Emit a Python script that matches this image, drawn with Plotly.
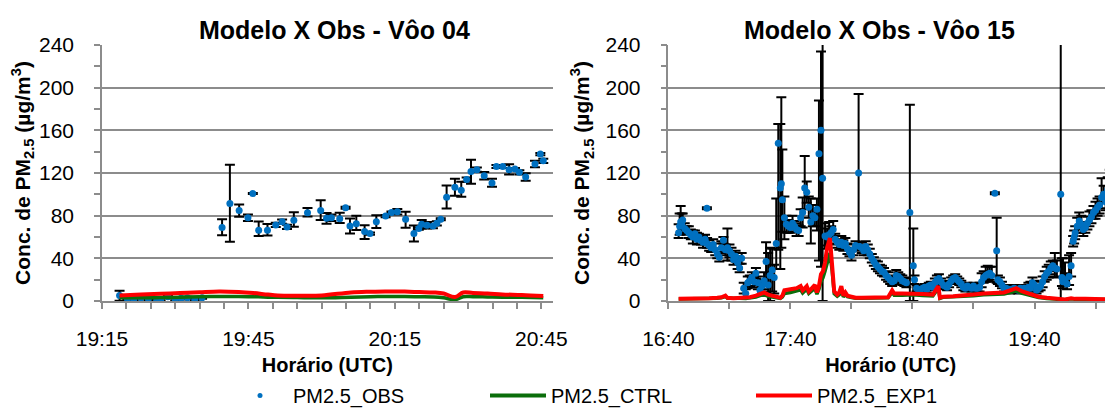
import pandas as pd
import plotly.graph_objects as go

# ---------------- DATA ----------------
# Flight 04 (minutes after 19:15)
OBS04_MIN = [3.6, 5.2, 6.5, 8.0, 9.5, 11.2, 12.0, 13.5, 15.0, 16.2, 17.5, 19.0, 20.5,
             24.6, 26.2, 28.1, 29.9, 30.9, 32.1, 33.9, 35.6, 36.9, 37.9, 39.3, 42.1, 44.8,
             46.0, 47.0, 48.7, 49.9, 50.8, 52.1, 53.8, 54.9, 56.2, 58.1, 59.3, 60.5, 62.2,
             63.9, 64.9, 65.5, 66.6, 67.8, 68.6, 69.4, 70.6, 72.3, 73.6, 74.7, 75.6, 76.8,
             78.3, 79.9, 80.8, 82.1, 83.4, 84.6, 85.5, 86.8, 88.7, 89.8, 90.4]
OBS04_VAL = [5.2, 2.0, 1.5, 3.0, 2.0, 0.5, 1.0, 4.0, 1.5, 2.5, 3.0, 1.5, 3.0,
             68.8, 91.4, 84.9, 78.1, 100.7, 66.3, 66.3, 71.3, 74.4, 69.4, 75.6, 82.8, 84.9,
             77.5, 78.1, 77.2, 87.4, 70.3, 72.5, 65.1, 63.2, 74.4, 79.6, 83.0, 83.7, 76.6,
             63.2, 67.9, 71.9, 71.0, 70.3, 72.8, 76.6, 97.3, 106.6, 103.8, 113.8, 121.5, 123.1,
             117.5, 110.7, 126.1, 126.1, 123.1, 123.7, 120.6, 116.3, 128.4, 137.7, 131.4]
OBS04_UP = [4.5, 1, 1, 1, 1, 1, 1, 1, 1, 1, 1, 1, 1,
            7.8, 36.3, 5.6, 3, 0.5, 8.3, 6, 2, 2, 2, 7.5, 4.5, 9.6,
            5, 3, 5.5, 1, 7, 7.5, 6, 1, 6, 1, 1, 2.5, 7,
            7.5, 1, 4, 3, 2, 2, 1, 10.9, 8, 8, 2, 11, 2,
            3.5, 4, 1.5, 1.5, 5, 1, 2, 3.5, 3, 1, 2]
OBS04_DN = [5, 1, 1, 1, 1, 1, 1, 1, 1, 1, 1, 1, 1,
            7.1, 35.9, 5.9, 3, 0.5, 5.3, 5, 2, 2, 2, 6, 3.5, 9,
            5, 3, 4, 1, 7, 6, 7, 1, 6, 1, 1, 2.5, 8,
            7.5, 1, 4, 3, 2, 2, 1, 10.5, 8, 6, 2, 11.5, 2,
            3.5, 3.5, 1.5, 1.5, 4.5, 1, 2, 3.5, 3, 1, 2]

MOD04_MIN = [3.6, 8, 12, 16, 20, 24, 28, 31, 34, 36, 40, 45, 51, 55, 58, 62, 65, 68,
             70, 72.3, 74, 76, 79, 82, 86, 90.4]
CTRL04_VAL = [3.0, 3.0, 3.2, 3.6, 4.0, 4.2, 4.2, 4.0, 3.6, 3.4, 3.2, 3.0, 3.6, 4.0, 4.2,
              4.2, 4.0, 3.8, 3.0, 1.2, 4.0, 4.0, 3.8, 3.6, 3.4, 3.0]
EXP104_VAL = [5.2, 6.0, 6.7, 7.5, 8.3, 9.0, 8.5, 7.5, 6.0, 5.2, 5.0, 5.2, 8.0, 8.7, 9.0,
              8.8, 8.4, 8.0, 7.0, 3.7, 8.0, 7.5, 7.0, 6.2, 5.6, 4.6]

# Flight 15 (minutes after 16:40)
OBS15_MIN = [5, 5.5, 6, 6.5, 7, 8, 9, 10, 11, 12, 13, 14, 15, 16, 17, 18, 18.9, 19, 20,
             21, 22, 23, 24, 25, 26, 27, 28, 29, 30, 31, 32, 33, 34, 35, 36, 37, 38, 39,
             40, 41, 42, 43, 44, 45, 46, 47, 48, 49, 50, 51, 52, 53, 54, 55, 55.5, 56, 57,
             58, 59, 60, 61, 62, 63, 64, 65, 66, 67, 68, 69, 70, 71, 72, 73, 74, 75, 75.8,
             77, 78, 79, 80, 81, 82, 83, 84, 85, 86, 87, 88, 89, 90, 91, 92, 93.5, 94, 95,
             96, 97, 98, 99, 100, 101, 102, 103, 104, 105, 106, 107, 108, 109, 110, 111,
             112, 113, 114, 115, 116, 117, 118.7, 120.4, 121, 122, 123, 124, 125, 126, 127,
             128, 129, 130, 131, 132, 133, 134, 135, 136, 137, 138, 139, 140, 141, 142, 143,
             144, 145, 146, 147, 148, 149, 150, 151, 152, 153, 154, 155, 156, 157, 158, 159,
             160.5, 161.4, 162, 163, 164, 165, 166, 167, 168, 169, 170, 171, 172, 173, 174,
             175, 176, 177, 178, 179, 180, 181, 182, 183, 184, 185, 186, 187, 188, 189, 190,
             191, 192.9, 193.5, 194, 195, 196, 197, 198, 199, 199.5, 200, 201, 202, 203, 204,
             205, 206, 207, 208, 209, 210, 211, 212, 213, 214, 215, 216, 217, 218]
OBS15_VAL = [64, 70, 74, 72, 76, 68, 66, 64, 62, 60, 63, 58, 60, 57, 55, 58, 87, 54, 52,
             50, 53, 48, 44, 41, 50, 57, 48, 50, 47, 44, 39, 42, 36, 31, 40, 12, 7, 17,
             19, 22, 18, 26, 17, 10, 14, 19, 37, 15, 24, 29, 22, 54, 148, 106, 110, 95, 78,
             72, 70, 69, 73, 70, 67, 66, 78, 83, 106, 102, 88, 74, 80, 78, 86, 138, 160, 115,
             61, 60, 62, 64, 67, 58, 55, 53, 55, 52, 54, 49, 46, 43, 48, 52, 120, 51, 50,
             47, 51, 48, 44, 40, 37, 34, 32, 30, 28, 27, 24, 22, 20, 18, 19,
             24, 23, 21, 19, 18, 17, 83, 33, 20, 12, 10, 11, 12, 13, 11,
             14, 15, 13, 17, 20, 21, 18, 15, 14, 13, 16, 19, 21, 22, 20, 18,
             16, 13, 12, 14, 13, 12, 14, 12, 12, 13, 18, 22, 24, 25, 26, 24,
             101, 47, 20, 18, 15, 12, 12, 11, 10, 11, 12, 11, 10, 12, 11,
             12, 10, 13, 12, 17, 15, 10, 12, 14, 18, 23, 26, 28, 31, 33, 31,
             30, 100, 22, 18, 20, 16, 23, 33, 56, 60, 64, 70, 75, 72, 67,
             69, 73, 76, 79, 83, 85, 88, 90, 97, 100, 93, 104, 111, 106]
OBS15_UP = [8, 12, 15, 10, 6, 5, 4, 6, 5, 6, 3, 6, 3, 4, 6, 4, 1, 5, 5,
            4, 5, 6, 5, 5, 6, 3, 5, 18, 6, 6, 6, 5, 6, 4, 5, 5, 4, 6,
            5, 5, 6, 5, 6, 5, 6, 8, 18, 30, 26, 20, 12, 42, 18, 60, 81, 47, 20,
            8, 6, 5, 7, 5, 6, 5, 8, 14, 30, 10, 10, 22, 10, 8, 10, 50, 74, 200,
            12, 8, 12, 6, 8, 5, 6, 5, 6, 5, 5, 5, 4, 5, 5, 4, 74, 4, 5,
            4, 5, 5, 5, 4, 4, 4, 5, 4, 5, 4, 4, 5, 4, 4, 4,
            5, 4, 4, 5, 4, 4, 101, 35, 4, 3, 3, 3, 3, 3, 3,
            3, 3, 3, 4, 4, 4, 3, 3, 3, 3, 3, 3, 3, 3, 3, 3,
            3, 3, 3, 3, 3, 3, 3, 3, 4, 4, 8, 6, 8, 8, 6, 8,
            1, 31, 4, 4, 3, 3, 3, 3, 3, 3, 3, 3, 3, 3, 3,
            3, 3, 4, 6, 5, 4, 3, 3, 4, 5, 5, 6, 6, 6, 5, 14,
            8, 200, 18, 22, 16, 10, 20, 12, 5, 6, 6, 8, 8, 8, 6,
            5, 6, 8, 6, 6, 8, 8, 8, 18, 8, 8, 12, 12, 10]
OBS15_DN = [5, 8, 10, 8, 6, 5, 4, 5, 4, 6, 3, 5, 3, 4, 5, 4, 1, 4, 5,
            4, 4, 5, 4, 4, 5, 3, 5, 12, 6, 6, 5, 5, 6, 4, 5, 5, 4, 5,
            5, 5, 5, 5, 6, 5, 5, 8, 22, 15, 24, 20, 15, 24, 100, 76, 60, 30, 20,
            8, 6, 5, 6, 5, 6, 5, 8, 14, 20, 10, 10, 20, 10, 8, 20, 100, 128, 115,
            12, 8, 8, 6, 8, 5, 5, 5, 6, 5, 5, 5, 4, 5, 5, 4, 70, 4, 5,
            4, 5, 5, 4, 4, 4, 4, 4, 4, 4, 4, 4, 4, 4, 4, 3,
            4, 4, 4, 4, 4, 4, 83, 33, 4, 3, 3, 3, 3, 3, 3,
            3, 3, 3, 3, 4, 4, 3, 3, 3, 3, 3, 3, 3, 3, 3, 3,
            3, 3, 3, 3, 3, 3, 3, 3, 3, 4, 5, 5, 6, 6, 6, 6,
            1, 30, 4, 4, 3, 3, 3, 3, 3, 3, 3, 3, 3, 3, 3,
            3, 3, 3, 3, 4, 4, 3, 3, 4, 5, 5, 6, 6, 6, 5, 8,
            8, 100, 8, 6, 6, 5, 8, 10, 5, 6, 6, 6, 8, 8, 6,
            5, 6, 6, 6, 6, 8, 8, 8, 10, 8, 8, 12, 10, 10]

MOD15_MIN = [5, 10, 15, 20, 24, 26, 28, 29, 32, 35, 38, 40, 43, 45, 47, 49, 51, 53, 55,
             56, 57, 60, 63, 65, 66, 68, 69, 70, 72, 73, 74, 75, 76, 77, 78, 79.4, 80.5,
             81.5, 83, 84, 85, 86, 87, 88, 90, 92, 95, 100, 105, 108, 110, 111, 115, 120,
             125, 130, 132.7, 133.5, 135, 140, 145, 150, 155, 160, 165, 168, 171, 174, 178,
             182, 186, 190, 195, 198, 200, 205, 210, 215, 218]
CTRL15_VAL = [1.8, 1.8, 2.0, 2.2, 2.6, 3.0, 4.2, 2.6, 2.2, 2.6, 2.4, 2.8, 3.8, 5.0, 6.0,
              4.5, 3.8, 3.0, 2.4, 3.8, 7.0, 8.0, 9.0, 10.5, 7.5, 11.0, 7.0, 8.5, 12.0, 6.5,
              11.0, 18.0, 22.0, 28.0, 36.0, 45.0, 28.0, 7.0, 4.5, 6.0, 11.0, 4.0, 6.0, 4.0,
              3.2, 2.6, 2.6, 2.6, 2.6, 3.0, 8.0, 5.5, 5.5, 5.8, 5.2, 4.8, 12.0, 2.4, 3.4,
              3.8, 4.2, 5.0, 5.8, 6.2, 6.6, 8.0, 9.5, 7.2, 4.8, 3.2, 2.4, 1.6, 1.2, 2.0,
              1.6, 1.6, 1.2, 1.2, 1.2]
EXP115_VAL = [2.0, 2.0, 2.3, 2.5, 3.0, 3.5, 5.0, 3.0, 2.5, 3.0, 3.0, 3.5, 5.0, 7.0, 8.0,
              6.0, 5.0, 4.0, 3.0, 5.0, 10.0, 11.0, 12.0, 14.0, 10.0, 14.0, 9.0, 11.0, 15.0,
              8.0, 14.0, 25.0, 28.0, 36.0, 50.0, 59.0, 34.0, 9.0, 6.0, 8.0, 14.0, 5.0, 8.0,
              5.0, 4.0, 3.0, 3.0, 3.0, 3.0, 3.5, 10.0, 7.0, 7.0, 7.0, 6.5, 6.0, 14.0, 3.0,
              4.0, 4.5, 5.0, 6.0, 7.0, 7.5, 8.0, 10.0, 12.0, 9.0, 6.0, 4.0, 3.0, 2.0, 1.5,
              2.5, 2.0, 2.0, 1.5, 1.5, 1.5]

X_TICKS04 = ["19:15", "19:45", "20:15", "20:45"]
X_TICKS15 = ["16:40", "17:40", "18:40", "19:40"]
Y_TICKS = [0, 40, 80, 120, 160, 200, 240]

# ---------------- HELPERS ----------------
DAY = "2000-01-01 "
BASE04 = pd.Timestamp(DAY + "19:15")
BASE15 = pd.Timestamp(DAY + "16:40")


def to_time(base, minutes):
    return [base + pd.Timedelta(minutes=m) for m in minutes]


BLUE = "#0070C0"
GREEN = "#0B6E0B"
RED = "#FF0000"
GRID = "#8C8C8C"
FONT = "Liberation Sans"

fig = go.Figure()

err_style = dict(type="data", symmetric=False, color="black", thickness=2, width=5)

# Flight 04
fig.add_trace(go.Scatter(
    x=to_time(BASE04, OBS04_MIN), y=OBS04_VAL, mode="markers",
    marker=dict(color=BLUE, size=7),
    error_y=dict(array=OBS04_UP, arrayminus=OBS04_DN, **err_style),
    xaxis="x", yaxis="y", showlegend=False, name="PM2.5_OBS"))
fig.add_trace(go.Scatter(
    x=to_time(BASE04, MOD04_MIN), y=CTRL04_VAL, mode="lines",
    line=dict(color=GREEN, width=3.5, shape="spline"),
    xaxis="x", yaxis="y", showlegend=False, name="PM2.5_CTRL"))
fig.add_trace(go.Scatter(
    x=to_time(BASE04, MOD04_MIN), y=EXP104_VAL, mode="lines",
    line=dict(color=RED, width=4, shape="spline"),
    xaxis="x", yaxis="y", showlegend=False, name="PM2.5_EXP1"))

# Flight 15
fig.add_trace(go.Scatter(
    x=to_time(BASE15, OBS15_MIN), y=OBS15_VAL, mode="markers",
    marker=dict(color=BLUE, size=7),
    error_y=dict(array=OBS15_UP, arrayminus=OBS15_DN, **err_style),
    xaxis="x2", yaxis="y2", showlegend=False, name="PM2.5_OBS"))
fig.add_trace(go.Scatter(
    x=to_time(BASE15, MOD15_MIN), y=CTRL15_VAL, mode="lines",
    line=dict(color=GREEN, width=3.5),
    xaxis="x2", yaxis="y2", showlegend=False, name="PM2.5_CTRL"))
fig.add_trace(go.Scatter(
    x=to_time(BASE15, MOD15_MIN), y=EXP115_VAL, mode="lines",
    line=dict(color=RED, width=4),
    xaxis="x2", yaxis="y2", showlegend=False, name="PM2.5_EXP1"))

# Legend entries
fig.add_trace(go.Scatter(x=[None], y=[None], mode="markers", name="PM2.5_OBS",
                         marker=dict(color=BLUE, size=5), legend="legend"))
fig.add_trace(go.Scatter(x=[None], y=[None], mode="lines", name="PM2.5_CTRL",
                         line=dict(color=GREEN, width=4), legend="legend2"))
fig.add_trace(go.Scatter(x=[None], y=[None], mode="lines", name="PM2.5_EXP1",
                         line=dict(color=RED, width=4), legend="legend3"))

# ---------------- LAYOUT ----------------
# The page body has an 8px margin: the figure is drawn at (8, 8) in the window.
OFF = 8
W, H = 1113 - OFF, 415 - OFF
ML, MR, MT, MB = 102.3 - OFF, 0, 44.5 - OFF, 113.5
PW = W - ML - MR
PH = H - MT - MB


def px_x(p):
    """screen x pixel -> paper fraction"""
    return (p - OFF - ML) / PW


def px_y(p):
    """screen y pixel -> paper fraction"""
    return (H - MB - (p - OFF)) / PH


tick_font = dict(family=FONT, size=21, color="black")
title_font = dict(family=FONT, size=20, color="black")

common_x = dict(type="date", tickformat="%H:%M", ticks="outside", ticklen=6,
                tickcolor=GRID, tickwidth=1.5, showline=True, linecolor=GRID,
                linewidth=1.5, showgrid=False, zeroline=False, tickfont=tick_font,
                ticklabelstandoff=12)
common_y = dict(range=[0, 240], tickvals=Y_TICKS, ticks="outside", ticklen=6,
                tickcolor=GRID, tickwidth=1.5, showline=True, linecolor=GRID,
                linewidth=1.5, showgrid=True, gridcolor=GRID, gridwidth=1.5,
                zeroline=False, tickfont=tick_font, ticklabelstandoff=16,
                minor=dict(dtick=20, ticks="outside", ticklen=6, tickcolor=GRID,
                           tickwidth=1.5, showgrid=False))
ytitle = "<b>Conc. de PM<sub>2.5</sub> (µg/m<sup>3</sup>)</b>"


def legend_box(px):
    return dict(orientation="h", xref="container", yref="container",
                x=(px - OFF) / W, y=-4 / H, xanchor="left", yanchor="bottom",
                itemwidth=56, borderwidth=0,
                font=dict(family=FONT, size=20, color="black"),
                bgcolor="rgba(0,0,0,0)")


fig.update_layout(
    width=W, height=H,
    margin=dict(l=ML, r=MR, t=MT, b=MB, pad=0, autoexpand=False),
    paper_bgcolor="white", plot_bgcolor="white",
    font=dict(family=FONT, color="black"),
    xaxis=dict(common_x, domain=[0, px_x(553)],
               range=[BASE04, BASE04 + pd.Timedelta(minutes=92.36)],
               tickvals=[pd.Timestamp(DAY + t) for t in X_TICKS04], ticktext=X_TICKS04,
               minor=dict(dtick=5 * 60 * 1000, tick0=BASE04, ticks="outside", ticklen=6,
                          tickcolor=GRID, tickwidth=1.5, showgrid=False),
               title=dict(text="<b>Horário (UTC)</b>", font=title_font, standoff=12),
               anchor="y"),
    yaxis=dict(common_y, domain=[0, 1], anchor="x",
               title=dict(text=ytitle, font=dict(family=FONT, size=21, color="black"),
                          standoff=4)),
    xaxis2=dict(common_x, domain=[px_x(668.6), 1],
                range=[BASE15, BASE15 + pd.Timedelta(minutes=218.6)],
                tickvals=[pd.Timestamp(DAY + t) for t in X_TICKS15], ticktext=X_TICKS15,
                minor=dict(dtick=30 * 60 * 1000, tick0=BASE15, ticks="outside", ticklen=6,
                           tickcolor=GRID, tickwidth=1.5, showgrid=False),
                title=dict(text="<b>Horário (UTC)</b>", font=title_font, standoff=12),
                anchor="y2"),
    yaxis2=dict(common_y, domain=[0, 1], anchor="x2",
                title=dict(text=ytitle, font=dict(family=FONT, size=21, color="black"),
                           standoff=10)),
    legend=legend_box(227),
    legend2=legend_box(485),
    legend3=legend_box(751),
    annotations=[
        dict(text="<b>Modelo X Obs - Vôo 04</b>", x=px_x(334.5), y=px_y(29),
             xref="paper", yref="paper", xanchor="center", yanchor="middle",
             showarrow=False, font=dict(family=FONT, size=25, color="black")),
        dict(text="<b>Modelo X Obs - Vôo 15</b>", x=px_x(880), y=px_y(29),
             xref="paper", yref="paper", xanchor="center", yanchor="middle",
             showarrow=False, font=dict(family=FONT, size=25, color="black")),
    ],
)

fig.write_html("out.html")
